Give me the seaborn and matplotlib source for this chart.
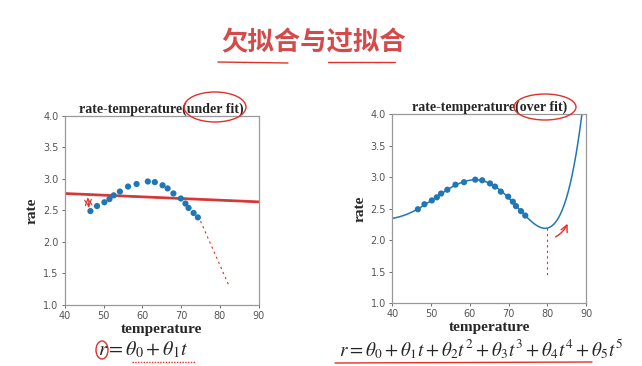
import numpy as np
import pandas as pd
import matplotlib
matplotlib.use("Agg")
import matplotlib.pyplot as plt
import seaborn as sns
from matplotlib.patches import Ellipse

# ---- data ----
temperature = [46.6, 48.3, 50.2, 51.5, 52.6, 54.2, 56.3, 58.5, 61.4, 63.2,
               65.2, 66.5, 68.0, 69.9, 71.1, 71.9, 73.2, 74.3]
rate = [2.49, 2.57, 2.63, 2.68, 2.74, 2.80, 2.88, 2.92, 2.96, 2.95,
        2.90, 2.85, 2.77, 2.69, 2.61, 2.54, 2.46, 2.39]
titles = ["rate-temperature(under fit)", "rate-temperature(over fit)"]
degrees = [1, 5]
formulas = [r"$r=\theta_0+\theta_1 t$",
            r"$r=\theta_0+\theta_1 t+\theta_2 t^2+\theta_3 t^3+\theta_4 t^4+\theta_5 t^5$"]
main_title = "欠拟合与过拟合"
x_ticks = [40, 50, 60, 70, 80, 90]
y_ticks = [1.0, 1.5, 2.0, 2.5, 3.0, 3.5, 4.0]

df = pd.DataFrame({"temperature": temperature, "rate": rate})

sns.set_theme(style="ticks")
plt.rcParams["font.family"] = ["DejaVu Sans"]
plt.rcParams["mathtext.fontset"] = "stix"

fig = plt.figure(figsize=(6.42, 3.66), dpi=100)
fig.patch.set_facecolor("white")

positions = [[0.101, 0.167, 0.302, 0.516], [0.611, 0.172, 0.302, 0.516]]
serif = "Liberation Serif"
blue = "#1f77b4"
red = "#e0302a"

axes = []
for i in range(2):
    ax = fig.add_axes(positions[i])
    axes.append(ax)
    coef = np.polyfit(df["temperature"], df["rate"], degrees[i])
    xs = np.linspace(40, 90, 400)
    fit = pd.DataFrame({"temperature": xs, "rate": np.polyval(coef, xs)})
    sns.lineplot(data=fit, x="temperature", y="rate", ax=ax, color=blue, lw=1.1)
    if i == 0:
        sns.lineplot(data=fit, x="temperature", y="rate", ax=ax, color=red, lw=2.0, alpha=0.9)
    sns.scatterplot(data=df, x="temperature", y="rate", ax=ax, color=blue,
                    s=20, edgecolor="none", zorder=3)
    ax.set_xlim(40, 90)
    ax.set_ylim(1.0, 4.0)
    ax.set_xticks(x_ticks)
    ax.set_yticks(y_ticks)
    ax.set_yticklabels([f"{v:.1f}" for v in y_ticks])
    ax.tick_params(labelsize=7, colors="#555555", length=2.5, width=0.6, pad=2)
    for sp in ax.spines.values():
        sp.set_visible(True)
        sp.set_color("#999999")
        sp.set_linewidth(0.9)
    ax.set_xlabel("temperature", fontsize=11, fontweight="bold", family=serif, labelpad=1)
    ax.set_ylabel("rate", fontsize=11, fontweight="bold", family=serif, labelpad=3)
    ax.set_title(titles[i], fontsize=10, fontweight="bold", family=serif, pad=2)

# formulas
fig.text(0.223, 0.045, formulas[0], fontsize=14.5, ha="center", va="center")
fig.text(0.75, 0.045, formulas[1], fontsize=13.8, ha="center", va="center")

# main title
fig.text(0.488, 0.882, main_title, fontsize=19, fontweight="bold", color="#d44a4a",
         ha="center", va="center", family=["Noto Sans CJK SC", "DejaVu Sans"])

# hand-drawn style annotations (decoration)
W, H = 642, 366
def fx(px):
    return px / W
def fy(py):
    return 1 - py / H

fig.add_artist(Ellipse((fx(215), fy(107)), 62 / W, 30 / H, transform=fig.transFigure,
                       fill=False, color=red, lw=1.0))
fig.add_artist(Ellipse((fx(545), fy(107)), 62 / W, 26 / H, transform=fig.transFigure,
                       fill=False, color=red, lw=1.0))
fig.add_artist(plt.Line2D([fx(218), fx(288)], [fy(62), fy(63)], transform=fig.transFigure,
                          color=red, lw=1.0))
fig.add_artist(plt.Line2D([fx(328), fx(395)], [fy(62), fy(62)], transform=fig.transFigure,
                          color=red, lw=1.0))
fig.add_artist(plt.Line2D([fx(335), fx(592)], [fy(363), fy(362)], transform=fig.transFigure,
                          color=red, lw=1.0))
fig.add_artist(plt.Line2D([fx(132), fx(195)], [fy(362), fy(362)], transform=fig.transFigure,
                          color=red, lw=1.0, ls=(0, (1, 1))))
fig.add_artist(Ellipse((fx(102), fy(350)), 12 / W, 18 / H, transform=fig.transFigure,
                       fill=False, color=red, lw=1.0))

axes[0].plot([75, 82.5], [2.33, 1.28], color=red, lw=0.8, ls=(0, (2, 3)))
axes[0].annotate("", xy=(45.8, 2.75), xytext=(46.3, 2.5),
                 arrowprops=dict(arrowstyle="<->", color=red, lw=0.8))
axes[1].plot([79.8, 79.8], [2.2, 1.42], color=red, lw=0.8, ls=(0, (2, 3)))
axes[1].annotate("", xy=(85.5, 2.3), xytext=(81.5, 2.03),
                 arrowprops=dict(arrowstyle="->", color=red, lw=1.0,
                                 connectionstyle="arc3,rad=0.2"))

fig.savefig("out.png", dpi=100, facecolor="white")
